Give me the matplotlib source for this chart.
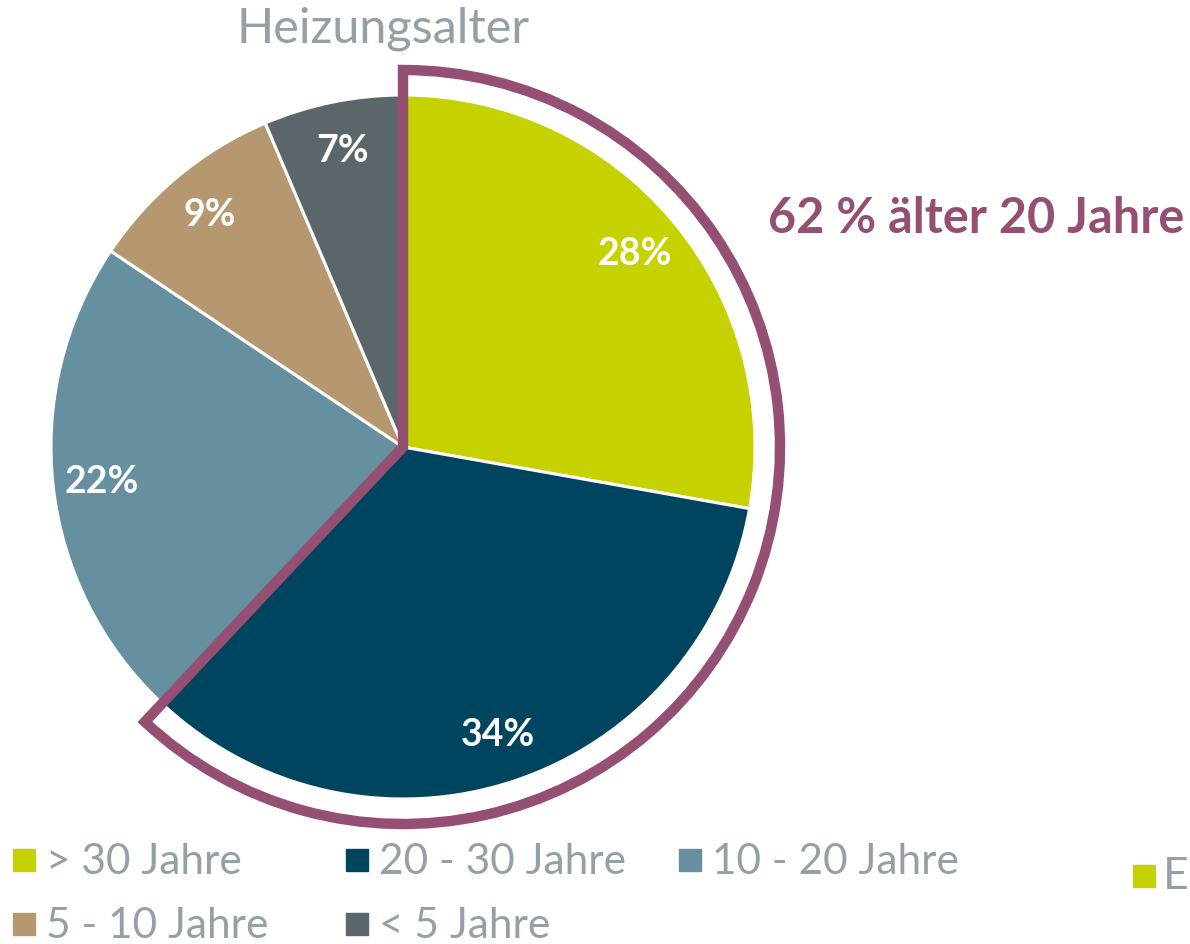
import matplotlib
matplotlib.use("Agg")
import matplotlib.pyplot as plt
from matplotlib.patches import Wedge, Rectangle

labels = ["> 30 Jahre", "20 - 30 Jahre", "10 - 20 Jahre", "5 - 10 Jahre", "< 5 Jahre"]
shares = [27.8, 34.2, 22.4, 9.2, 6.4]
pct_labels = ["28%", "34%", "22%", "9%", "7%"]
colors = ["#C5D200", "#00455F", "#668F9F", "#B59770", "#5B666B"]
title = "Heizungsalter"
note = "62 % älter 20 Jahre"
n_highlight = 2   # first two slices are older than 20 years

GREY = "#95A0A5"
PURPLE = "#954F72"
plt.rcParams['font.family'] = ['Lato', 'DejaVu Sans']

H = 945
fig = plt.figure(figsize=(11.9, 9.45), dpi=100)
ax = fig.add_axes([0, 0, 1, 1])

cx, cy, R = 403, H - 448, 352
wedges, texts = ax.pie(
    shares, labels=pct_labels, colors=colors, startangle=90, counterclock=False,
    center=(cx, cy), radius=R, labeldistance=0.86,
    wedgeprops=dict(edgecolor='white', linewidth=2.2),
    textprops=dict(color='white', fontsize=27, fontweight='bold'))
for t in texts:
    t.set_ha('center')
    t.set_va('center')

ax.set_xlim(0, 1190)
ax.set_ylim(0, H)
ax.set_aspect('equal')
ax.axis('off')

# outline round the slices older than 20 years
end_angle = 90 - 360 * sum(shares[:n_highlight]) / sum(shares)
outline = Wedge((cx, cy), 377, end_angle, 90, fill=False,
                edgecolor=PURPLE, linewidth=7.5, joinstyle='miter')
ax.add_patch(outline)

ax.text(768, H - 233, note, color=PURPLE, fontsize=35, fontweight='bold',
        ha='left', va='baseline')
ax.text(383, H - 43, title, color=GREY, fontsize=35, ha='center', va='baseline')

# legend: three equal-width columns, filled row by row
col_w, row_h, box = 333, 64, 22
for i, (lab, col) in enumerate(zip(labels, colors)):
    c, r = i % 3, i // 3
    x0 = 13 + c * col_w
    y_bottom = 872 + r * row_h
    ax.add_patch(Rectangle((x0, H - y_bottom), box, box, color=col))
    ax.text(x0 + 33, H - y_bottom - 2, lab, color=GREY, fontsize=30.5,
            ha='left', va='baseline')

# cut-off entry of a neighbouring legend on the right edge
ax.add_patch(Rectangle((1133, H - 888), box, box, color=colors[0]))
ax.text(1163, H - 889, "E", color=GREY, fontsize=32, va='baseline')

fig.savefig("out.png", dpi=100)
